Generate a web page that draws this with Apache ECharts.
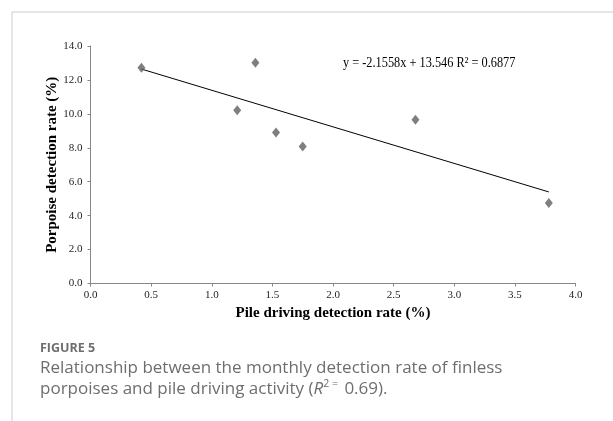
<!DOCTYPE html>
<html><head><meta charset="utf-8">
<script src="https://cdn.jsdelivr.net/npm/echarts@6/dist/echarts.min.js"></script>
<style>html,body{margin:0;padding:0;background:#fff}#c{width:613px;height:421px}</style>
</head><body><div id="c"></div>
<script>
const pileRate = [0.42, 1.36, 1.21, 1.53, 1.75, 2.68, 3.78];
const porpoiseRate = [12.72, 13.02, 10.22, 8.90, 8.07, 9.66, 4.75];
const slope = -2.1558, intercept = 13.546;
const xTicks = [0, 4, 0.5];
const yTicks = [0, 14, 2];
const equationText = 'y = -2.1558x + 13.546 R² = 0.6877';

const pts = pileRate.map((x, i) => [x, porpoiseRate[i]]);
const xmin = Math.min(...pileRate), xmax = Math.max(...pileRate);
const trend = [[xmin, slope * xmin + intercept], [xmax, slope * xmax + intercept]];

const chart = echarts.init(document.getElementById('c'), null, {renderer: 'canvas'});
const serif = '"Liberation Serif", "Times New Roman", serif';
const sans = '"Open Sans", Lato, sans-serif';
chart.setOption({
  animation: false,
  grid: {left: 90.5, right: 37.5, top: 46, bottom: 137.5, containLabel: false},
  xAxis: {
    type: 'value', min: xTicks[0], max: xTicks[1], interval: xTicks[2],
    name: 'Pile driving detection rate (%)', nameLocation: 'middle', nameGap: 22,
    nameMoveOverlap: false,
    nameTextStyle: {fontFamily: serif, fontWeight: 'bold', fontSize: 15, color: '#000'},
    axisLine: {lineStyle: {color: '#868686', width: 1}},
    axisTick: {show: true, inside: false, length: 3, lineStyle: {color: '#868686'}},
    axisLabel: {fontFamily: serif, fontSize: 11, color: '#1e1e1e', margin: 6,
      formatter: v => v.toFixed(1)},
    splitLine: {show: false}
  },
  yAxis: {
    type: 'value', min: yTicks[0], max: yTicks[1], interval: yTicks[2],
    name: 'Porpoise detection rate (%)', nameLocation: 'middle', nameGap: 31,
    nameMoveOverlap: false,
    nameTextStyle: {fontFamily: serif, fontWeight: 'bold', fontSize: 15, color: '#000'},
    axisLine: {show: true, lineStyle: {color: '#868686', width: 1}},
    axisTick: {show: true, inside: false, length: 3, lineStyle: {color: '#868686'}},
    axisLabel: {fontFamily: serif, fontSize: 11, color: '#1e1e1e', margin: 8,
      formatter: v => v.toFixed(1)},
    splitLine: {show: false}
  },
  title: [
    {text: 'FIGURE 5', left: 40, top: 342, padding: 0,
      textStyle: {fontFamily: sans, fontSize: 12.5, fontWeight: 'bold', color: '#6e6e6e'}},
    {text: 'Relationship between the monthly detection rate of finless\n{n|porpoises and pile driving activity (}{i|R}{sup|2 =}{n| 0.69).}',
      left: 40, top: 358, padding: 0,
      textStyle: {fontFamily: sans, fontSize: 17, fontWeight: 'normal', color: '#6e6e6e', lineHeight: 21,
        rich: {
          n: {fontFamily: sans, fontSize: 17, color: '#6e6e6e', lineHeight: 21},
          i: {fontFamily: sans, fontSize: 17, fontStyle: 'italic', color: '#6e6e6e', lineHeight: 21},
          sup: {fontFamily: sans, fontSize: 10.5, color: '#6e6e6e', verticalAlign: 'top', lineHeight: 21, padding: [0, 2, 9, 0]}
        }}}
  ],
  graphic: [
    {type: 'line', shape: {x1: 12, y1: 12, x2: 613, y2: 12}, style: {stroke: '#cccccc', lineWidth: 1}},
    {type: 'line', shape: {x1: 12, y1: 12, x2: 12, y2: 421}, style: {stroke: '#cccccc', lineWidth: 1}},
    {type: 'text', x: 343, y: 63, scaleX: 0.88, originX: 0, originY: 0,
      style: {text: equationText, font: '14px ' + serif, fill: '#000', verticalAlign: 'middle'}}
  ],
  series: [
    {type: 'line', data: trend, symbol: 'none', lineStyle: {color: '#000', width: 1}, z: 2, silent: true},
    {type: 'scatter', data: pts, symbol: 'diamond', symbolSize: [8, 10],
      itemStyle: {color: '#5f5f5f'}, z: 3}
  ]
});
</script></body></html>
